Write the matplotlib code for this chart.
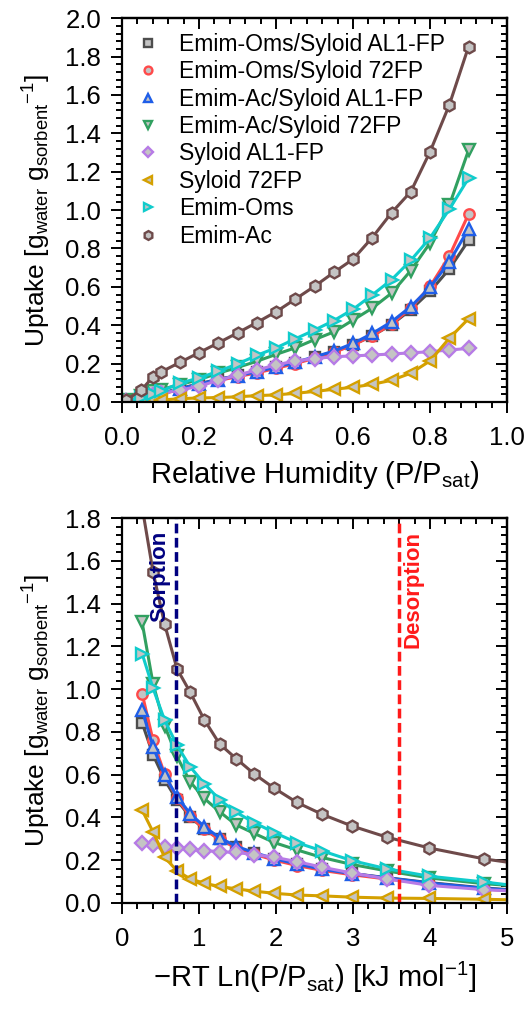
import numpy as np
import matplotlib
matplotlib.use("Agg")
import matplotlib.pyplot as plt
from matplotlib.ticker import MultipleLocator, FormatStrFormatter

plt.rcParams['font.family'] = ['Liberation Sans', 'DejaVu Sans']
plt.rcParams['mathtext.fontset'] = 'custom'
plt.rcParams['mathtext.rm'] = 'Liberation Sans'
plt.rcParams['mathtext.it'] = 'Liberation Sans:italic'
plt.rcParams['mathtext.bf'] = 'Liberation Sans:bold'

# ---------------- data ----------------
rh = [0.01, 0.05, 0.08, 0.1, 0.15, 0.2, 0.25, 0.3, 0.35, 0.4, 0.45, 0.5,
      0.55, 0.6, 0.65, 0.7, 0.75, 0.8, 0.85, 0.9]

series_names = ["Emim-Oms/Syloid AL1-FP", "Emim-Oms/Syloid 72FP",
                "Emim-Ac/Syloid AL1-FP", "Emim-Ac/Syloid 72FP",
                "Syloid AL1-FP", "Syloid 72FP", "Emim-Oms", "Emim-Ac"]

oms_al1 = [0.005, 0.02, 0.035, 0.045, 0.07, 0.095, 0.118, 0.138, 0.158, 0.18,
           0.205, 0.232, 0.262, 0.298, 0.345, 0.403, 0.481, 0.576, 0.693, 0.842]
oms_72 = [0.005, 0.018, 0.03, 0.04, 0.065, 0.09, 0.112, 0.132, 0.152, 0.175,
          0.2, 0.228, 0.258, 0.297, 0.345, 0.405, 0.49, 0.602, 0.76, 0.979]
ac_al1 = [0.005, 0.02, 0.033, 0.043, 0.068, 0.093, 0.117, 0.137, 0.158, 0.182,
          0.207, 0.235, 0.265, 0.305, 0.357, 0.418, 0.497, 0.597, 0.73, 0.902]
ac_72 = [0.008, 0.03, 0.055, 0.065, 0.09, 0.117, 0.15, 0.18, 0.212, 0.248,
         0.282, 0.325, 0.365, 0.427, 0.489, 0.567, 0.685, 0.829, 1.025, 1.312]
syl_al1 = [0.005, 0.02, 0.035, 0.045, 0.062, 0.082, 0.113, 0.14, 0.167, 0.193,
           0.214, 0.226, 0.236, 0.24, 0.245, 0.25, 0.256, 0.262, 0.271, 0.279]
syl_72 = [0.002, 0.005, 0.008, 0.01, 0.017, 0.021, 0.023, 0.027, 0.033, 0.037,
          0.045, 0.055, 0.066, 0.077, 0.092, 0.113, 0.15, 0.214, 0.332, 0.434]
emim_oms = [0.005, 0.02, 0.04, 0.055, 0.098, 0.125, 0.16, 0.198, 0.243, 0.282,
            0.329, 0.375, 0.424, 0.483, 0.558, 0.637, 0.738, 0.855, 1.004, 1.166]
emim_ac = [0.01, 0.062, 0.13, 0.155, 0.206, 0.257, 0.308, 0.36, 0.414, 0.47,
           0.536, 0.603, 0.675, 0.744, 0.857, 0.986, 1.096, 1.304, 1.548, 1.852]

all_series = [oms_al1, oms_72, ac_al1, ac_72, syl_al1, syl_72, emim_oms, emim_ac]
colors = ["#4d4d4d", "#ff4a4a", "#1f5ee8", "#31a060", "#b77be6", "#d4a000",
          "#10cccc", "#6e4a4a"]
markers = ["s", "o", "^", "v", "D", "<", ">", "h"]
msizes = [7, 7.5, 8, 8, 7, 8, 8, 8.5]

T_K = 298.15
R_gas = 8.314e-3  # kJ/(mol K)
sorption_x = 0.7
desorption_x = 3.6

fill = "#c4c4c4"

# ---------------- figure ----------------
fig = plt.figure(figsize=(5.26, 10.10), dpi=100)
ax1 = fig.add_axes([0.232, 0.602, 0.732, 0.380])
ax2 = fig.add_axes([0.232, 0.106, 0.732, 0.381])

rh_arr = np.array(rh)
pot = -R_gas * T_K * np.log(rh_arr)

for vals, c, m, ms, name in zip(all_series, colors, markers, msizes, series_names):
    ax1.plot(rh_arr, vals, color=c, lw=2.2, marker=m, ms=ms, mfc=fill,
             mec=c, mew=1.7, label=name)
    ax2.plot(pot, vals, color=c, lw=2.2, marker=m, ms=ms, mfc=fill,
             mec=c, mew=1.7)

ylab = r'Uptake [g$_{\mathregular{water}}$ g$_{\mathregular{sorbent}}{}^{\mathregular{-1}}$]'

ax1.set_xlim(0, 1.0)
ax1.set_ylim(0, 2.0)
ax1.set_xlabel(r'Relative Humidity (P/P$_{\mathregular{sat}}$)', fontsize=21, labelpad=7)
ax1.set_ylabel(ylab, fontsize=19, labelpad=9)

ax2.set_xlim(0, 5)
ax2.set_ylim(0, 1.8)
ax2.set_xlabel(r'$-$RT Ln(P/P$_{\mathregular{sat}}$) [kJ mol$^{\mathregular{-1}}$]', fontsize=21, labelpad=7)
ax2.set_ylabel(ylab, fontsize=19, labelpad=9)

def style_axes(ax, xmaj, xmin, ymaj, ymin):
    ax.xaxis.set_major_locator(MultipleLocator(xmaj))
    ax.xaxis.set_minor_locator(MultipleLocator(xmin))
    ax.yaxis.set_major_locator(MultipleLocator(ymaj))
    ax.yaxis.set_minor_locator(MultipleLocator(ymin))
    ax.tick_params(which='both', direction='out', labelsize=18.5, width=1.4)
    ax.tick_params(which='major', length=8)
    ax.tick_params(axis='x', which='major', pad=9)
    ax.tick_params(axis='y', which='major', pad=7)
    ax.tick_params(which='minor', length=4)
    for s in ax.spines.values():
        s.set_linewidth(1.6)
    top = ax.secondary_xaxis('top')
    top.xaxis.set_major_locator(MultipleLocator(xmaj))
    top.xaxis.set_minor_locator(MultipleLocator(xmin))
    top.tick_params(which='both', direction='in', labeltop=False, width=1.4)
    top.tick_params(which='major', length=8)
    top.tick_params(which='minor', length=4)
    top.spines['top'].set_linewidth(1.6)
    right = ax.secondary_yaxis('right')
    right.yaxis.set_major_locator(MultipleLocator(ymaj))
    right.yaxis.set_minor_locator(MultipleLocator(ymin))
    right.tick_params(which='both', direction='in', labelright=False, width=1.4)
    right.tick_params(which='major', length=8)
    right.tick_params(which='minor', length=4)
    right.spines['right'].set_linewidth(1.6)

style_axes(ax1, 0.2, 0.04, 0.2, 0.04)
style_axes(ax2, 1, 0.2, 0.2, 0.04)

ax1.xaxis.set_major_formatter(FormatStrFormatter('%.1f'))
ax1.yaxis.set_major_formatter(FormatStrFormatter('%.1f'))
ax2.yaxis.set_major_formatter(FormatStrFormatter('%.1f'))

leg = ax1.legend(loc='upper left', frameon=False, fontsize=16.5,
                 handlelength=1.0, handletextpad=0.85, labelspacing=0.19,
                 borderaxespad=0.35, borderpad=0.3, markerscale=0.75)
for h in leg.legend_handles:
    h.set_linestyle('none')

ax2.axvline(sorption_x, color='#000080', lw=2.5, ls=(0, (2.8, 1.3)))
ax2.axvline(desorption_x, color='#ff1a1a', lw=2.5, ls=(0, (2.8, 1.3)))
ax2.text(sorption_x - 0.07, 1.74, 'Sorption', rotation=90, color='#000080',
         fontsize=16, fontweight='bold', ha='right', va='top')
ax2.text(desorption_x + 0.04, 1.74, 'Desorption', rotation=90, color='#ff1a1a',
         fontsize=16, fontweight='bold', ha='left', va='top')

fig.savefig('out.png', dpi=100)
